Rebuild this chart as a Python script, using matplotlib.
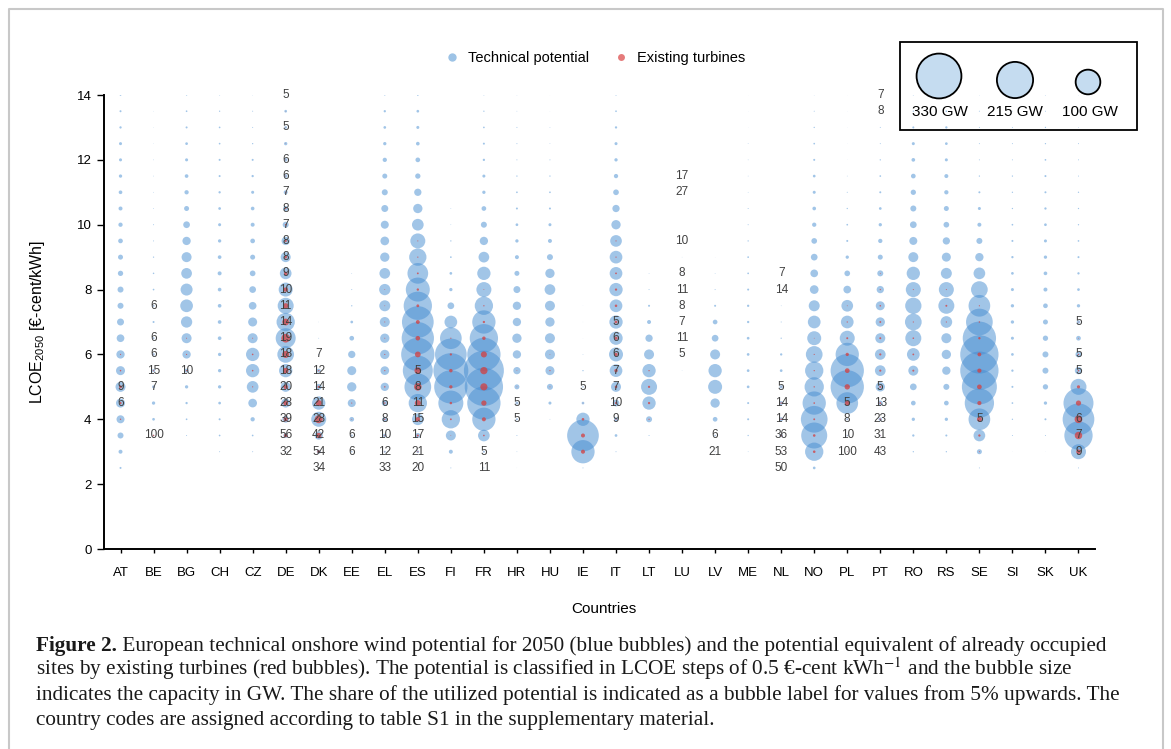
import numpy as np
import matplotlib
matplotlib.use('Agg')
import matplotlib.pyplot as plt
from matplotlib.lines import Line2D
from matplotlib.patches import Rectangle

countries = ['AT', 'BE', 'BG', 'CH', 'CZ', 'DE', 'DK', 'EE', 'EL', 'ES', 'FI', 'FR', 'HR', 'HU', 'IE',
             'IT', 'LT', 'LU', 'LV', 'ME', 'NL', 'NO', 'PL', 'PT', 'RO', 'RS', 'SE', 'SI', 'SK', 'UK']

# LCOE classes [€-cent/kWh]
lcoe_steps = [2.5, 3.0, 3.5, 4.0, 4.5, 5.0, 5.5, 6.0, 6.5, 7.0, 7.5, 8.0,
              8.5, 9.0, 9.5, 10.0, 10.5, 11.0, 11.5, 12.0, 12.5, 13.0, 13.5, 14.0]

# technical potential per LCOE class [GW]
at_gw = [0.66, 2.6, 5.9, 10.5, 13.3, 16.4, 13.3, 11.3, 9.7, 8.0, 5.9, 5.9, 4.6, 4.1, 3.6, 3.0, 2.6, 2.2, 1.8, 1.5, 1.5, 0.87, 0.66, 0.47]
be_gw = [0, 0, 0.37, 1.2, 1.8, 1.5, 1.5, 1.0, 0.66, 0.66, 0.66, 0.47, 0.37, 0.28, 0.16, 0.16, 0.1, 0.08, 0.08, 0.08, 0.04, 0.04, 0.04, 0]
bg_gw = [0, 0, 0.16, 0.47, 0.87, 1.8, 2.6, 11.3, 16.4, 20.9, 26.5, 23.6, 18.8, 16.4, 11.3, 7.4, 4.1, 3.0, 2.2, 1.5, 1.2, 0.66, 0.47, 0.28]
ch_gw = [0, 0.16, 0.47, 0.66, 1.2, 1.8, 1.8, 1.8, 2.2, 2.2, 2.2, 2.2, 2.6, 2.2, 1.8, 1.5, 1.2, 0.87, 0.66, 0.66, 0.47, 0.47, 0.28, 0.16]
cz_gw = [0, 0.16, 0.47, 3.0, 12.4, 22.4, 29.0, 29.0, 16.4, 13.3, 9.7, 7.4, 5.3, 4.1, 3.6, 2.6, 2.2, 1.5, 0.87, 0.66, 0.28, 0.16, 0.16, 0.08]
de_gw = [0, 0.37, 3.6, 7.4, 13.3, 16.4, 29.0, 45.7, 65.6, 54.9, 42.0, 32.1, 22.4, 16.4, 11.3, 5.9, 4.1, 2.6, 2.2, 2.0, 1.8, 1.2, 1.2, 0.16]
dk_gw = [0.16, 2.6, 11.3, 36.9, 29.0, 5.9, 2.6, 0.16, 0.1, 0.04, 0, 0, 0, 0, 0, 0, 0, 0, 0, 0, 0, 0, 0, 0]
ee_gw = [0, 0.37, 0.66, 3.6, 10.5, 14.2, 13.3, 8.7, 3.6, 1.2, 0.28, 0.16, 0.08, 0, 0, 0, 0, 0, 0, 0, 0, 0, 0, 0]
el_gw = [0.16, 0.66, 2.0, 4.1, 5.9, 11.3, 12.4, 14.2, 14.2, 16.4, 19.8, 20.9, 18.8, 14.2, 12.4, 10.5, 8.0, 5.9, 4.1, 3.0, 1.8, 1.2, 0.87, 0.28]
es_gw = [0.16, 1.2, 4.1, 22.4, 54.9, 116.9, 147.6, 181.9, 171.1, 164.8, 131.3, 94.5, 70.3, 49.1, 36.9, 22.4, 14.2, 8.7, 4.6, 3.6, 2.2, 1.5, 1.2, 0.47]
fi_gw = [0.16, 2.6, 16.4, 54.9, 102.5, 181.9, 200.9, 164.8, 77.2, 26.5, 7.4, 1.8, 1.2, 0.47, 0.28, 0.08, 0.08, 0, 0, 0, 0, 0, 0, 0]
fr_gw = [0.16, 0.66, 22.4, 89.0, 181.9, 240.6, 262.4, 181.9, 131.3, 89.0, 54.9, 36.9, 29.0, 18.8, 11.3, 5.9, 3.6, 1.8, 1.5, 0.87, 0.66, 0.47, 0.28, 0.16]
hr_gw = [0.015, 0.08, 0.16, 0.66, 1.5, 4.1, 8.7, 11.3, 14.2, 11.3, 11.3, 8.0, 4.1, 2.6, 1.8, 1.2, 0.66, 0.47, 0.28, 0.16, 0.16, 0.16, 0.08, 0.08]
hu_gw = [0, 0, 0, 0.08, 1.5, 5.9, 13.3, 16.4, 16.4, 14.2, 16.4, 18.8, 14.2, 5.9, 2.6, 1.5, 0.66, 0.47, 0.28, 0.16, 0.08, 0.08, 0.015, 0.015]
ie_gw = [0.16, 89.0, 164.8, 29.0, 1.2, 0.37, 0.28, 0.08, 0.015, 0.015, 0.015, 0, 0, 0, 0, 0, 0, 0, 0, 0, 0, 0, 0, 0]
it_gw = [0, 0.16, 1.2, 2.6, 7.4, 16.4, 26.5, 32.1, 29.0, 29.0, 26.5, 29.0, 26.5, 26.5, 22.4, 14.2, 8.7, 5.3, 3.0, 1.8, 1.5, 0.87, 0.47, 0.28]
lt_gw = [0, 0, 0.16, 5.9, 29.0, 42.0, 29.0, 16.4, 8.7, 2.6, 0.66, 0.16, 0.08, 0, 0, 0, 0, 0, 0, 0, 0, 0, 0, 0]
lu_gw = [0, 0, 0, 0, 0, 0, 0.04, 0.08, 0.08, 0.08, 0.08, 0.08, 0.08, 0.04, 0.04, 0, 0, 0.015, 0.015, 0, 0, 0, 0, 0]
lv_gw = [0, 0.16, 0.37, 3.6, 14.2, 32.1, 29.0, 16.4, 7.4, 3.6, 0.66, 0.16, 0.08, 0.015, 0, 0, 0, 0, 0, 0, 0, 0, 0, 0]
me_gw = [0, 0.08, 0.28, 0.66, 0.66, 1.2, 1.2, 1.2, 1.2, 0.87, 0.87, 0.66, 0.47, 0.47, 0.28, 0.16, 0.16, 0.08, 0.08, 0.08, 0.08, 0.015, 0.015, 0.015]
nl_gw = [0.04, 0.16, 1.8, 2.6, 2.6, 1.8, 1.2, 0.87, 0.28, 0.16, 0.08, 0.04, 0.04, 0, 0, 0, 0, 0, 0, 0, 0, 0, 0, 0]
no_gw = [1.2, 54.9, 110.9, 116.9, 89.0, 61.1, 54.9, 45.7, 32.1, 26.5, 19.8, 12.4, 9.7, 7.4, 5.3, 3.0, 2.2, 1.5, 1.2, 0.66, 0.47, 0.28, 0.16, 0.08]
pl_gw = [0, 0.08, 0.37, 0.66, 77.2, 181.9, 181.9, 89.0, 36.9, 26.5, 22.4, 9.7, 5.3, 1.8, 0.66, 0.47, 0.28, 0.16, 0.08, 0.015, 0.015, 0.015, 0.015, 0.015]
pt_gw = [0, 0.16, 0.37, 2.0, 4.1, 14.2, 18.8, 18.8, 16.4, 14.2, 13.3, 8.7, 5.9, 4.1, 3.0, 1.8, 1.2, 0.66, 0.47, 0.28, 0.16, 0.16, 0.04, 0.04]
ro_gw = [0, 0.28, 0.87, 1.8, 3.6, 7.4, 16.4, 26.5, 42.0, 45.7, 43.6, 36.9, 29.0, 16.4, 10.5, 7.4, 5.9, 4.6, 3.6, 2.2, 1.5, 0.66, 0.28, 0.16]
rs_gw = [0, 0.28, 0.66, 1.8, 3.6, 5.9, 11.3, 14.2, 16.4, 22.4, 42.0, 36.9, 19.8, 13.3, 8.7, 5.3, 4.1, 3.0, 2.6, 1.5, 1.2, 0.87, 0.47, 0.08]
se_gw = [0.16, 4.1, 22.4, 77.2, 140.8, 200.9, 240.6, 240.6, 181.9, 116.9, 77.2, 45.7, 22.4, 11.3, 5.9, 2.6, 1.5, 0.66, 0.28, 0.16, 0.16, 0.16, 0.16, 0.08]
si_gw = [0, 0.015, 0.16, 0.28, 0.47, 0.66, 0.87, 1.2, 1.5, 1.8, 1.8, 1.5, 1.2, 0.87, 0.66, 0.47, 0.28, 0.28, 0.28, 0.16, 0.16, 0.16, 0.08, 0.08]
sk_gw = [0, 0.015, 0.16, 0.66, 1.8, 4.6, 5.9, 5.9, 4.6, 4.1, 3.6, 2.6, 2.2, 1.8, 1.5, 1.2, 0.87, 0.66, 0.66, 0.47, 0.28, 0.28, 0.16, 0.16]
uk_gw = [0.16, 36.9, 131.3, 164.8, 147.6, 42.0, 8.7, 5.9, 3.6, 2.0, 1.8, 1.2, 0.87, 0.66, 0.47, 0.28, 0.28, 0.28, 0.16, 0.16, 0.16, 0.08, 0.08, 0.08]

# share already used by existing turbines [%]
at_share = [0, 0, 0, 3, 6, 9, 3, 2, 0, 0, 0, 0, 0, 0, 0, 0, 0, 0, 0, 0, 0, 0, 0, 0]
be_share = [0, 0, 100, 0, 0, 7, 15, 6, 6, 0, 6, 0, 0, 0, 0, 0, 0, 0, 0, 0, 0, 0, 0, 0]
bg_share = [0, 0, 0, 0, 0, 0, 10, 2, 1, 0, 0, 0, 0, 0, 0, 0, 0, 0, 0, 0, 0, 0, 0, 0]
ch_share = [0] * 24
cz_share = [0, 0, 0, 0, 0, 1, 1.5, 1.5, 1, 0, 0, 0, 0, 0, 0, 0, 0, 0, 0, 0, 0, 0, 0, 0]
de_share = [0, 32, 56, 39, 28, 20, 18, 18, 19, 14, 11, 10, 9, 8, 8, 7, 8, 7, 6, 6, 3, 5, 3, 5]
dk_share = [34, 54, 42, 28, 21, 14, 12, 7, 0, 0, 0, 0, 0, 0, 0, 0, 0, 0, 0, 0, 0, 0, 0, 0]
ee_share = [0, 6, 6, 3, 2, 0, 0, 0, 0, 0, 0, 0, 0, 0, 0, 0, 0, 0, 0, 0, 0, 0, 0, 0]
el_share = [33, 12, 10, 8, 6, 3, 2, 1.5, 1, 1, 0.5, 0.5, 0, 0, 0, 0, 0, 0, 0, 0, 0, 0, 0, 0]
es_share = [20, 21, 17, 15, 11, 8, 5, 3, 2, 1.5, 1, 1, 0.8, 0.5, 0.5, 0, 0, 0, 0, 0, 0, 0, 0, 0]
fi_share = [0, 0, 0.5, 1, 1, 1, 1, 0.5, 0.3, 0, 0, 0, 0, 0, 0, 0, 0, 0, 0, 0, 0, 0, 0, 0]
fr_share = [11, 5, 2, 3, 2.5, 3.5, 3.3, 3.3, 1.5, 1, 0.5, 0.3, 0, 0, 0, 0, 0, 0, 0, 0, 0, 0, 0, 0]
hr_share = [0, 0, 0, 5, 5, 2, 1, 0, 0, 0, 0, 0, 0, 0, 0, 0, 0, 0, 0, 0, 0, 0, 0, 0]
hu_share = [0, 0, 0, 0, 0, 2, 2, 0.5, 0, 0, 0, 0, 0, 0, 0, 0, 0, 0, 0, 0, 0, 0, 0, 0]
ie_share = [0, 3, 1.6, 4, 4, 5, 0, 0, 0, 0, 0, 0, 0, 0, 0, 0, 0, 0, 0, 0, 0, 0, 0, 0]
it_share = [0, 0, 0, 9, 10, 7, 7, 6, 6, 5, 4, 3, 2, 1, 1, 0, 0, 0, 0, 0, 0, 0, 0, 0]
lt_share = [0, 0, 0, 4, 3, 2, 1, 0, 0, 0, 0, 0, 0, 0, 0, 0, 0, 0, 0, 0, 0, 0, 0, 0]
lu_share = [0, 0, 0, 0, 0, 0, 0, 5, 11, 7, 8, 11, 8, 0, 10, 0, 0, 27, 17, 0, 0, 0, 0, 0]
lv_share = [0, 21, 6, 0, 0, 0, 0, 0, 0, 0, 0, 0, 0, 0, 0, 0, 0, 0, 0, 0, 0, 0, 0, 0]
me_share = [0] * 24
nl_share = [50, 53, 36, 14, 14, 5, 0, 0, 0, 0, 0, 14, 7, 0, 0, 0, 0, 0, 0, 0, 0, 0, 0, 0]
no_share = [0, 2, 1, 0.5, 0.5, 0.5, 0.5, 0.5, 0.3, 0, 0, 0, 0, 0, 0, 0, 0, 0, 0, 0, 0, 0, 0, 0]
pl_share = [0, 100, 10, 8, 5, 2.6, 2, 2, 1.8, 1, 0.5, 0, 0, 0, 0, 0, 0, 0, 0, 0, 0, 0, 0, 0]
pt_share = [0, 43, 31, 23, 13, 5, 4, 4, 4, 4, 3, 3, 2, 0, 0, 0, 0, 0, 0, 0, 0, 0, 8, 7]
ro_share = [0, 0, 0, 0, 0, 0, 4, 2, 1, 0.5, 0, 0.5, 0, 0, 0, 0, 0, 0, 0, 0, 0, 0, 0, 0]
rs_share = [0, 0, 0, 0, 0, 0, 0, 0, 0, 1, 1.5, 0.5, 0, 0, 0, 0, 0, 0, 0, 0, 0, 0, 0, 0]
se_share = [0, 4, 4, 5, 2, 1.8, 1.2, 1, 0.5, 0.3, 0.3, 0, 0, 0, 0, 0, 0, 0, 0, 0, 0, 0, 0, 0]
si_share = [0] * 24
sk_share = [0] * 24
uk_share = [0, 9, 7, 6, 3, 4, 5, 5, 3, 5, 0, 0, 0, 0, 0, 0, 0, 0, 0, 0, 0, 0, 0, 0]

legend_gw = [330, 215, 100]

potential = [at_gw, be_gw, bg_gw, ch_gw, cz_gw, de_gw, dk_gw, ee_gw, el_gw, es_gw, fi_gw, fr_gw,
             hr_gw, hu_gw, ie_gw, it_gw, lt_gw, lu_gw, lv_gw, me_gw, nl_gw, no_gw, pl_gw, pt_gw,
             ro_gw, rs_gw, se_gw, si_gw, sk_gw, uk_gw]
shares = [at_share, be_share, bg_share, ch_share, cz_share, de_share, dk_share, ee_share, el_share,
          es_share, fi_share, fr_share, hr_share, hu_share, ie_share, it_share, lt_share, lu_share,
          lv_share, me_share, nl_share, no_share, pl_share, pt_share, ro_share, rs_share, se_share,
          si_share, sk_share, uk_share]

W, H = 1171, 749
K = 3.16  # marker area (pt^2) per GW

plt.rcParams['font.family'] = ['Liberation Sans', 'DejaVu Sans']
plt.rcParams['mathtext.fontset'] = 'custom'
plt.rcParams['mathtext.rm'] = 'Liberation Sans'
plt.rcParams['mathtext.it'] = 'Liberation Sans:italic'

fig = plt.figure(figsize=(W / 100, H / 100), dpi=100)
ax = fig.add_axes([104 / W, 1 - 549 / H, (1095 - 104) / W, (549 - 95) / H])

gw = np.array(potential, dtype=float)
sh = np.array(shares, dtype=float)
xx, yy = np.meshgrid(np.arange(len(countries)), lcoe_steps, indexing='ij')

ax.scatter(xx.ravel(), yy.ravel(), s=gw.ravel() * K, color=(0.27, 0.55, 0.82), alpha=0.5,
           linewidths=0, zorder=2)
existing = gw * sh / 100
ax.scatter(xx.ravel(), yy.ravel(), s=existing.ravel() * K, color='#D43F3F', alpha=0.75,
           linewidths=0, zorder=3)

for i in range(len(countries)):
    for j, lv in enumerate(lcoe_steps):
        if sh[i, j] >= 5:
            ax.text(i, lv, '%d' % round(sh[i, j]), ha='center', va='center', fontsize=8.5,
                    color='#404040', zorder=4)

ax.set_xlim(-0.5, len(countries) - 0.5)
ax.set_ylim(0, 14)
ax.set_xticks(range(len(countries)))
ax.set_xticklabels(countries)
ax.set_yticks(range(0, 15, 2))
ax.tick_params(axis='x', length=3, width=1, labelsize=9.5, pad=10, colors='black')
ax.tick_params(axis='y', length=5, width=1, labelsize=9.5, pad=4)
for s in ['top', 'right']:
    ax.spines[s].set_visible(False)
ax.spines['left'].set_linewidth(1.4)
ax.spines['bottom'].set_linewidth(1.4)
ax.set_facecolor('none')

ax.set_ylabel('LCOE$_{2050}$ [€-cent/kWh]', fontsize=11.5)
ax.yaxis.set_label_coords((47 - 104) / 991, 0.5)
ax.set_xlabel('Countries', fontsize=11)
ax.xaxis.set_label_coords((604 - 104) / 991, (549 - 602) / 454)

handles = [Line2D([], [], ls='none', marker='o', ms=6, mfc='#9DC3E6', mec='none'),
           Line2D([], [], ls='none', marker='o', ms=5, mfc='#E57B7B', mec='none')]
ax.legend(handles, ['Technical potential', 'Existing turbines'], loc='center',
          bbox_to_anchor=(591 / W, 1 - 58 / H), bbox_transform=fig.transFigure, ncol=2,
          frameon=False, fontsize=10.5, handletextpad=0.1, columnspacing=1.2)

# overlay in pixel units: page border, size legend, caption
ov = fig.add_axes([0, 0, 1, 1])
ov.set_xlim(0, W)
ov.set_ylim(H, 0)
ov.set_axis_off()
ov.plot([9, 9, 1163, 1163], [H, 9, 9, H], color='#C8C8C8', lw=1.5)
ov.add_patch(Rectangle((900, 42), 237, 88, fill=False, ec='black', lw=1.3))
ov.scatter([939, 1015, 1088], [76, 80, 82], s=np.array(legend_gw) * K, color='#C5DCF0',
           edgecolors='black', linewidths=1.3, zorder=5)
for x, v in zip([940, 1015, 1090], legend_gw):
    ov.text(x, 112, '%d GW' % v, ha='center', va='center', fontsize=11)

cap = dict(fontsize=15.3, family='Liberation Serif', va='baseline', color='#1a1a1a',
           math_fontfamily='stix')
t = ov.text(36, 651, 'Figure 2.', fontweight='bold', **cap)
fig.canvas.draw()
bw = t.get_window_extent(fig.canvas.get_renderer()).width
ov.text(36 + bw, 651, ' European technical onshore wind potential for 2050 (blue bubbles) and the '
        'potential equivalent of already occupied', **cap)
ov.text(36, 675.5, 'sites by existing turbines (red bubbles). The potential is classified in LCOE '
        'steps of 0.5 €-cent kWh$^{-1}$ and the bubble size', **cap)
ov.text(36, 700, 'indicates the capacity in GW. The share of the utilized potential is indicated as '
        'a bubble label for values from 5% upwards. The', **cap)
ov.text(36, 724.5, 'country codes are assigned according to table S1 in the supplementary material.',
        **cap)

fig.savefig('out.png', dpi=100)
